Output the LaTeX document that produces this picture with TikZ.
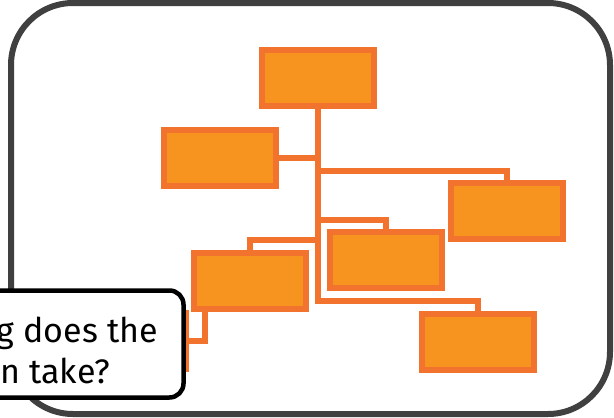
\documentclass[tikz,border=0pt]{standalone}
\usepackage{fontspec}
\setmainfont{Fira Sans}
\definecolor{ofill}{RGB}{247,148,32}
\definecolor{oline}{RGB}{242,115,45}
\definecolor{framegray}{RGB}{64,64,64}
\begin{document}
\begin{tikzpicture}[x=1pt,y=-1pt,
  box/.style={draw=oline,fill=ofill,line width=6pt,minimum width=112pt,minimum height=56pt,inner sep=0pt},
  conn/.style={draw=oline,line width=6pt},
  outerframe/.style={draw=framegray,line width=6pt,rounded corners=62pt},
  callout/.style={draw=black,fill=white,line width=4.5pt,rounded corners=14pt,minimum width=203.5pt,minimum height=107pt,inner sep=0pt},
  qtext/.style={font=\fontsize{34}{41}\selectfont,inner sep=0pt,anchor=base east}]
\clip (0,0) rectangle (614,418);
\node[outerframe,minimum width=599pt,minimum height=411pt,inner sep=0pt] (frame) at (310.5,208.5) {};
% junction points on the trunk
\coordinate (jB) at (317.5,158);
\coordinate (jD) at (317.5,171);
\coordinate (jC) at (317.5,220);
\coordinate (jE) at (317.5,240);
\coordinate (jF) at (317.5,301);
\node[box] (A) at (317.5,78) {};
\node[box] (B) at (220,158) {};
\node[box] (D) at (506.5,211) {};
\node[box] (C) at (386,259.5) {};
\node[box] (E) at (250,280.5) {};
\node[box] (F) at (477.5,341.5) {};
\node[box] (G) at (130,341) {};
% connectors
\draw[conn] (A.south) -- (jF) -| (F.north);
\draw[conn] (B.east) -- (jB);
\draw[conn] (jD) -| (D.north);
\draw[conn] (jC) -| (C.north);
\draw[conn] (jE) -| (E.north);
\coordinate (eG) at (204.5,312);
\draw[conn] (eG) |- (G.east);
% redraw boxes on top of connectors
\node[box] at (A) {};
\node[box] at (B) {};
\node[box] at (D) {};
\node[box] at (C) {};
\node[box] at (E) {};
\node[box] at (F) {};
\node[box] at (G) {};
% callout
\node[callout] (call) at (81.75,344) {};
\node[qtext] (q1) at (158,342) {How long does the};
\node[qtext] (q2) at (110,383) {computation take?};
\end{tikzpicture}
\end{document}
